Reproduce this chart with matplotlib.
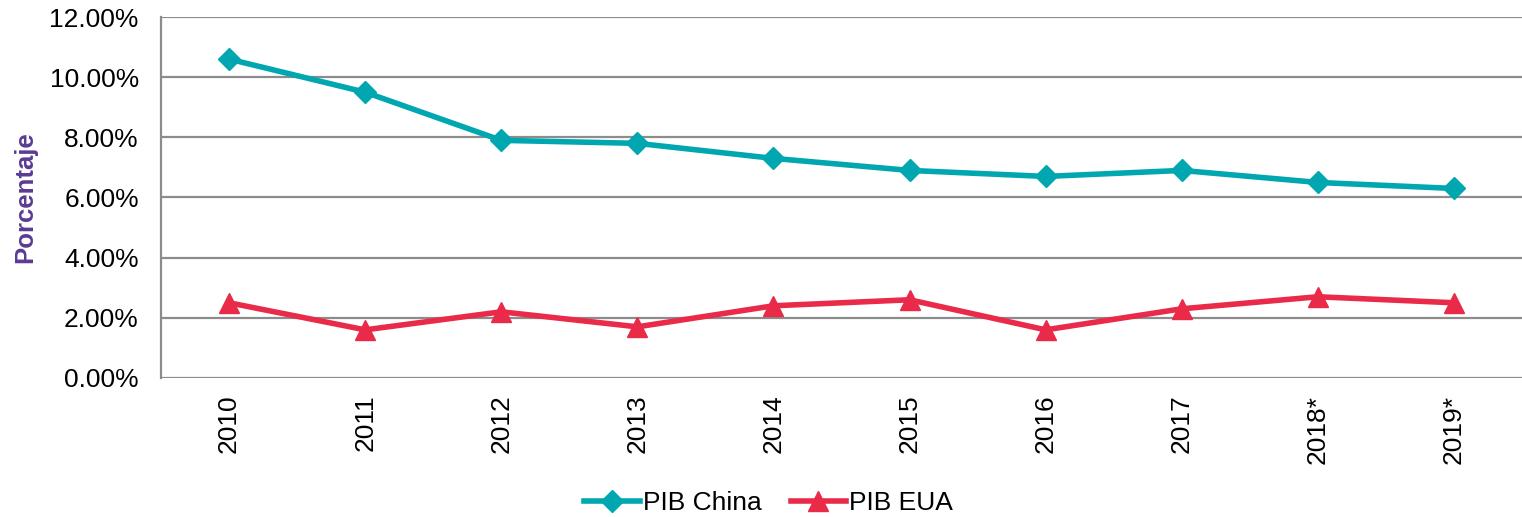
import matplotlib.pyplot as plt
from matplotlib.ticker import FuncFormatter

plt.rcParams["font.family"] = ["Liberation Sans", "DejaVu Sans"]

years = ["2010", "2011", "2012", "2013", "2014", "2015", "2016", "2017", "2018*", "2019*"]
pib_china = [10.6, 9.5, 7.9, 7.8, 7.3, 6.9, 6.7, 6.9, 6.5, 6.3]
pib_eua = [2.5, 1.6, 2.2, 1.7, 2.4, 2.6, 1.6, 2.3, 2.7, 2.5]

TEAL = "#00A7B1"
RED = "#E92A48"
GRID = "#8C8C8C"

fig = plt.figure(figsize=(15.22, 5.17), dpi=100)
ax = fig.add_axes([0.1058, 0.2689, 0.8942, 0.6982])

x = range(len(years))
ax.plot(x, pib_china, color=TEAL, lw=4, marker="D", ms=11,
        label="PIB China", solid_joinstyle="miter")
ax.plot(x, pib_eua, color=RED, lw=4, marker="^", ms=15,
        label="PIB EUA", solid_joinstyle="miter")

ax.set_xlim(-0.5, len(years) - 0.5)
ax.set_ylim(0, 12)
ax.set_yticks(range(0, 13, 2))
ax.yaxis.set_major_formatter(FuncFormatter(lambda v, _: f"{v:.2f}%"))
ax.set_xticks(list(x))
ax.set_xticklabels(years, rotation=90)
ax.tick_params(axis="both", length=0, labelsize=19, colors="black")
ax.tick_params(axis="y", pad=16)
ax.tick_params(axis="x", pad=12)

ax.grid(axis="y", color=GRID, lw=1.6)
ax.set_axisbelow(True)
for side in ["top", "right", "bottom"]:
    ax.spines[side].set_visible(False)
ax.spines["left"].set_color(GRID)
ax.spines["left"].set_linewidth(1.6)

ax.set_ylabel("Porcentaje", fontsize=18.5, fontweight="bold", color="#5B3B93")
ax.yaxis.set_label_coords(-0.091, 0.5)

fig.legend(loc="center", bbox_to_anchor=(0.505, 0.027), ncol=2, frameon=False,
           fontsize=19, handlelength=2.1, handletextpad=0.12, columnspacing=1.1,
           borderaxespad=0)

fig.savefig("out.png", dpi=100)
